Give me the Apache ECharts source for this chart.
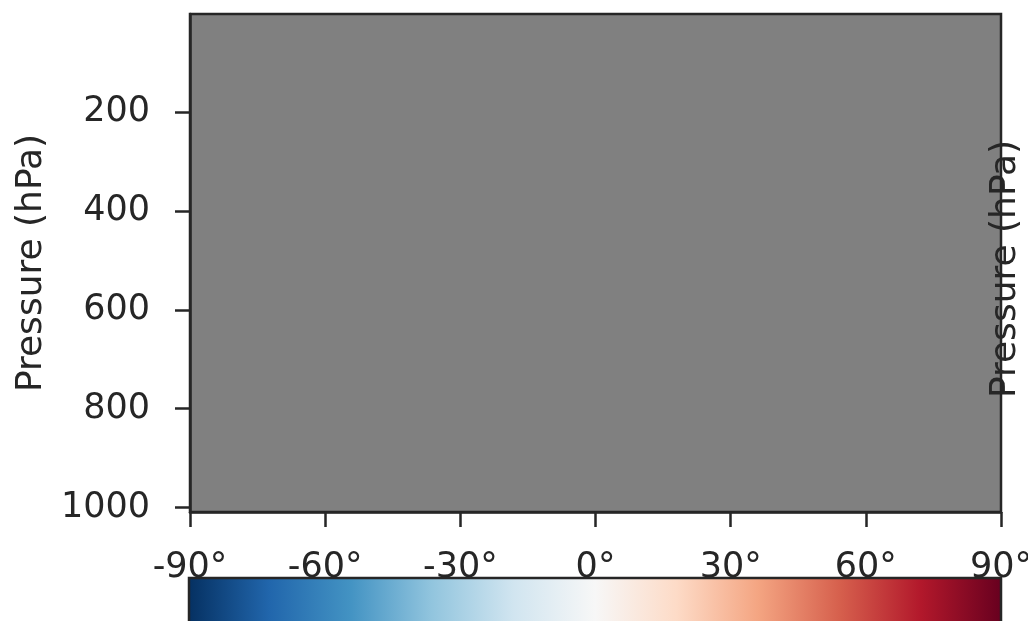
<!DOCTYPE html>
<html>
<head>
<meta charset="utf-8">
<script src="https://cdn.jsdelivr.net/npm/echarts@6/dist/echarts.min.js"></script>
<style>
html,body{margin:0;padding:0;background:#fff;}
#chart{width:1028px;height:621px;}
</style>
</head>
<body>
<div id="chart"></div>
<script>
// Data
var latTicks = [-90, -60, -30, 0, 30, 60, 90];
var pressureTicks = [200, 400, 600, 800, 1000];
var pressureRange = [1, 1009];
var cmapColors = ['#053061', '#2166ac', '#4393c3', '#92c5de', '#d1e5f0', '#f7f7f7', '#fddbc7', '#f4a582', '#d6604d', '#b2182b', '#67001f'];
var axisName = 'Pressure (hPa)';

var ink = '#262626';
var font = 'DejaVu Sans';

var chart = echarts.init(document.getElementById('chart'), null, {renderer: 'canvas'});

var stops = cmapColors.map(function (c, i) {
  return {offset: i / (cmapColors.length - 1), color: c};
});

chart.setOption({
  animation: false,
  backgroundColor: '#ffffff',
  grid: {
    left: 190, right: 27, top: 14, bottom: 109,
    outerBoundsMode: 'none', containLabel: false,
    show: true, backgroundColor: '#808080',
    borderColor: ink, borderWidth: 2.5
  },
  xAxis: {
    type: 'value',
    min: latTicks[0], max: latTicks[latTicks.length - 1], interval: 30,
    axisLine: {show: true, onZero: false, lineStyle: {color: ink, width: 2.5}},
    axisTick: {show: true, length: 15, lineStyle: {color: ink, width: 2.5}},
    splitLine: {show: false},
    axisLabel: {
      margin: 38, color: ink, fontFamily: font, fontSize: 35,
      formatter: function (v) { return v + '°'; }
    }
  },
  yAxis: {
    type: 'value', inverse: true,
    min: pressureRange[0], max: pressureRange[1],
    name: axisName, nameLocation: 'middle', nameGap: 133,
    nameTextStyle: {color: ink, fontFamily: font, fontSize: 36},
    axisLine: {show: true, onZero: false, lineStyle: {color: ink, width: 2.5}},
    axisTick: {show: true, length: 15, lineStyle: {color: ink, width: 2.5}, customValues: pressureTicks},
    splitLine: {show: false},
    axisLabel: {
      margin: 40, color: ink, fontFamily: font, fontSize: 35, customValues: pressureTicks,
      formatter: function (v) { return String(v); }
    }
  },
  series: [{type: 'line', data: [], showSymbol: false}],
  graphic: [
    {
      type: 'rect', z: 100,
      shape: {x: 189, y: 578, width: 812, height: 60},
      style: {
        fill: new echarts.graphic.LinearGradient(0, 0, 1, 0, stops),
        stroke: ink, lineWidth: 2.5
      }
    },
    {
      type: 'text', z: 100,
      x: 1006, y: 269, rotation: Math.PI / 2,
      style: {
        text: axisName, fill: ink, font: '36px "DejaVu Sans"',
        textAlign: 'center', textVerticalAlign: 'middle'
      }
    }
  ]
});
</script>
</body>
</html>
